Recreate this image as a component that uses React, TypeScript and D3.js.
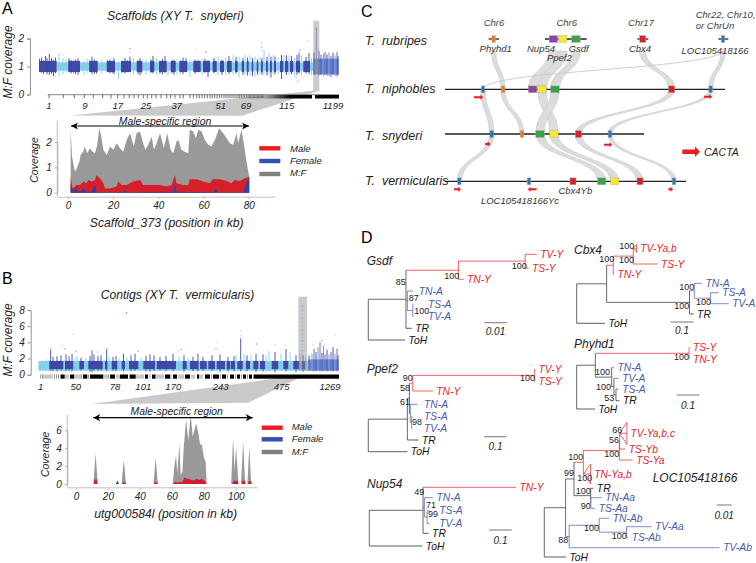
import React, { useEffect, useRef } from 'react';
import * as d3 from 'd3';

const FONT = '"Liberation Sans", Arial, sans-serif';
const NARROW = '"Liberation Sans Narrow", "Liberation Sans", Arial, sans-serif';
const RED = '#e8262d';
const BLUE = '#4a5bab';
const DARK = '#3f48a6';
const LIGHT = '#84cfe9';
const MID = '#6f8fd6';

// panel A, genome-wide M:F coverage. x is position along the concatenated scaffolds
const darkBlocksA = [[1, 18.7], [30.3, 42], [51.3, 59.7], [68.7, 77], [83, 93], [98.7, 104.3], [112, 116.3], [121, 128.7], [132.7, 137.7], [141.3, 149.3], [155.3, 162.7], [165, 172], [174.7, 178.7], [182, 186], [189, 193.7], [197, 199.7], [203.7, 206], [208.7, 210.7], [213.7, 215.3], [218.7, 220.3], [223, 224.7], [228, 229.7], [232, 233.7], [236, 238], [242, 245.3], [247, 250.3], [252, 255.3], [258, 262], [265.3, 272]];
const spikesDarkA = [[1.5, .82, 1.28], [3.5, .78, 1.32], [5.5, .74, 1.22], [7.5, .8, 1.38], [9, .72, 1.3], [11.3, .7, 1.46], [13.5, .74, 1.3], [15.5, .66, 1.24], [17.5, .76, 1.32], [31, .82, 1.3], [33, .75, 1.24], [35.5, .78, 1.2], [37.5, .72, 1.25], [40, .7, 1.3], [41.5, .8, 1.18], [52, .8, 1.22], [54, .72, 1.35], [56.5, .74, 1.25], [58.5, .75, 1.2], [69.5, .8, 1.22], [72, .76, 1.25], [74.5, .78, 1.2], [76, .72, 1.3], [84, .78, 1.2], [87, .75, 1.3], [89.5, .82, 1.22], [92, .8, 1.35], [100, .72, 1.22], [102, .68, 1.3], [103.5, .78, 1.2], [113, .78, 1.25], [115, .75, 1.38], [122, .74, 1.2], [124.5, .72, 1.28], [127, .78, 1.38], [134, .76, 1.22], [136, .7, 1.25], [142.5, .78, 1.22], [145, .72, 1.32], [148, .8, 1.3], [157, .74, 1.25], [160, .8, 1.22], [167, .78, 1.28], [170, .62, 1.22], [176, .76, 1.3], [184, .7, 1.25], [191, .72, 1.38], [198, .75, 1.34], [205, .7, 1.3], [209.5, .68, 1.32], [214.5, .66, 1.3], [219.5, .7, 1.25], [224, .7, 1.3], [229, .68, 1.34], [233, .6, 1.35], [237, .72, 1.36], [243.5, .55, 1.42], [248.5, .7, 1.4], [253.5, .72, 1.38], [259, .7, 1.42], [261, .75, 1.5], [268, .75, 1.34], [271, .72, 1.48]];
const spikesLightA = [[21, .65, 1.45], [25, .72, 1.3], [28, .78, 1.25], [46, .7, 1.22], [49, .75, 1.28], [64, .74, 1.25], [80.5, .56, 1.2], [95.5, .72, 1.3], [108, .7, 1.25], [118.5, .7, 1.3], [130, .68, 1.2], [139, .72, 1.25], [152, .62, 1.25], [164, .7, 1.28], [180, .68, 1.35], [187.5, .7, 1.3], [195, .7, 1.4], [201, .6, 1.36], [207, .68, 1.42], [212, .68, 1.4], [217, .62, 1.36], [222, .72, 1.36], [226, .7, 1.6], [231, .72, 1.5], [235, .72, 1.4], [240, .72, 1.34], [246, .78, 1.4], [251, .7, 1.4], [256.5, .65, 1.3], [263.5, .68, 1.4], [273.5, .7, 1.3]];
const spikesMixA = [[276, .7, 1.5], [278.3, 1.2, 2.4], [281, .68, 1.56], [283, .7, 1.42], [285.5, .66, 1.45], [287, .7, 1.52], [289, .68, 1.42], [291, .66, 1.5], [293, .62, 1.38], [295, .7, 1.5], [297, .66, 1.4], [299, .64, 1.52], [300, .7, 1.38]];
const dotsA = [[92, 1.64], [91.3, 1.52], [223.7, 1.85], [223.7, 1.7], [224, 1.58], [270.3, 1.92], [262, 1.58], [260.3, .5], [259, .44], [258, .62], [157.5, 1.62], [25, 1.42], [168, 1.52]];
const ticksA = [49, 63.3, 74.3, 84.3, 93.3, 102.7, 111, 117.7, 124, 129.3, 134, 138.3, 143.3, 147.3, 151.7, 156, 161, 166.7, 170.7, 175, 180, 183.3, 190, 193.3, 196.7, 199.3, 202, 204.7, 207.3, 210, 212.3, 214.7, 217, 219.3, 221.7, 224, 226, 228, 230, 232, 234, 236, 238, 239.7, 241.3, 243, 244.7, 246.3, 248, 249.3, 250.7, 252, 253.3, 254.7, 256, 257.3, 258.7, 260, 261.3, 262.7, 264];
const tickLabelsA = [['1', 49], ['9', 85], ['17', 117.7], ['25', 146], ['37', 176.7], ['51', 220.7], ['69', 246], ['115', 286.7], ['1199', 333]];

// panel A zoom on Scaffold_373
const kbMfA = [1.3, 1.9, 3.2, 4, 5.2, 5.7, 6.9, 7.5, 8.7, 9.9, 11, 12.1, 13.1, 14, 14.9, 15.8, 17.3, 18.7, 20.2, 21.7, 23.2, 24.6, 26.1, 27.6, 29.3, 30.5, 32, 33.2, 34.4, 35.7, 37.2, 38.2, 39.4, 40.9, 42.6, 44.1, 45.6, 46.8, 48.2, 49.1, 50.3, 51.9, 53.4, 54.1, 55.6, 56.8, 57.8, 59.3, 60.8, 62.2, 63.7, 65.2, 67.1, 68.9, 70.4, 71.8, 73.3, 74.8, 75.5, 77, 78, 79.2, 80.4];
const mfA = [2.54, 1.42, .83, .96, 1.23, 1.49, 1.62, 1.82, 1.56, 1.75, 1.62, 1.56, 1.89, 2.54, 2.21, 1.69, 1.49, 1.82, 1.69, 1.95, 1.75, 1.62, 2.08, 2.35, 1.82, 2.35, 2.41, 2.02, 1.69, 1.89, 2.21, 1.69, 1.95, 2.35, 1.75, 2.35, 1.69, 1.56, 2.02, 2.08, 1.69, 1.62, 1.56, 2.48, 2.41, 2.15, 2.48, 2.41, 2.08, 1.89, 1.82, 2.08, 2.54, 2.35, 2.15, 1.95, 1.89, 2.35, 1.95, 2.48, 1.95, 1.23, .63];
const kbMaleA = [1.3, 2.2, 4, 5.4, 6.9, 8.4, 9.1, 10.6, 12.1, 12.8, 14.3, 15.8, 16.5, 18.7, 21.7, 22.4, 23.9, 26.1, 29, 32, 33.5, 36.4, 40.9, 43.8, 46, 47.5, 48.2, 51.2, 53.4, 54.1, 57.1, 60, 63, 64.2, 67.4, 70.4, 72.6, 74, 76.3, 78.5, 80.4];
const maleA = [.63, .17, .3, .3, .44, .37, .5, .44, .5, .7, .57, .37, .17, .17, .24, .44, .3, .3, .44, .5, .3, .3, .3, .24, .3, .7, .37, .3, .3, .53, .53, .44, .37, .53, .53, .46, .37, .5, .46, .57, .63];
const kbFemaleA = [1.3, 2.4, 3.5, 4.7, 6.2, 7.1, 8.4, 10.6, 12.1, 12.8, 13.5, 24.6, 25.4, 26.3, 46.8, 47.5, 48.2, 64.5, 65.5, 66.6, 77.7, 78.9, 80.4];
const femaleA = [.3, .04, .2, .04, .08, .17, .04, .04, .3, .04, .02, .02, .12, .02, .04, .37, .04, .02, .17, .02, .02, .3, .63];

// panel B, genome-wide M:F coverage along the contigs
const darkBlocksB = [[11.3, 25.3], [27, 35.3], [41.3, 46], [50.3, 64.7], [67, 69.3], [73.7, 79.3], [83.7, 87], [91, 100.3], [105.3, 117], [118.7, 138], [144.7, 148.7], [152, 160.3], [162, 168.7], [170.3, 177], [178.7, 187], [188.7, 192], [192.7, 197], [199.3, 204.7], [208, 212], [215.3, 220.3], [222, 227], [233.7, 240.3], [245.3, 250.3], [255.3, 261.3], [263.7, 267]];
const spikesDarkB = [[12.7, .5, 3.1], [15, .45, 2.2], [19, .4, 2.3], [23, .5, 2.4], [28, .4, 2.5], [31, .5, 2.3], [34, .45, 2.6], [43, .5, 2.1], [52, .35, 2.3], [54, .3, 3], [56, .5, 2.5], [60, .45, 2.3], [63, .5, 2.4], [68.7, .4, 3.2], [75, .5, 2.2], [78, .45, 2.3], [85.5, .4, 2.6], [93, .45, 2.4], [97, .5, 2.6], [108, .4, 2.3], [112, .35, 2.5], [116, .45, 2.4], [122, .5, 2.2], [128, .45, 2.3], [135, .4, 2.6], [146, .35, 2.4], [155, .45, 2.2], [160, .4, 2.6], [165, .5, 2.2], [174, .45, 2.4], [182, .35, 2.5], [190, .4, 2.2], [196, .4, 2.3], [202.7, .4, 4.5], [209, .4, 2.4], [218, .35, 2.6], [225, .4, 2.5], [237, .3, 2.8], [248, .4, 3.2], [258, .35, 2.4], [265, .35, 2.4]];
const spikesLightB = [[8, .5, 1.9], [37, .5, 2], [39, .5, 2.3], [48, .5, 2.1], [71, .5, 2.2], [81, .5, 2], [89, .5, 2.1], [103, .5, 2.1], [141, .5, 2.2], [150, .5, 2.1], [198, .5, 2.4], [206, .5, 2.6], [213, .5, 2.5], [228, .5, 2.4], [231, .45, 2.9], [243, .45, 2.6], [252, .5, 2.8], [262, .5, 2.5], [268, .5, 2.2]];
const spikesMixB = [[271, .5, 2.4], [274, .4, 2.6], [276, .4, 3.2], [278, .45, 2.8], [280, .45, 3.4], [282, .4, 4], [284, .45, 2.7], [285.5, .4, 3.6], [287, .5, 2.5], [289, .4, 3.1], [291, .4, 2.5], [293, .45, 2.8], [295, .4, 3.4], [297, .45, 2.6], [299, .4, 3.2], [300, .5, 2.4]];
const dotsB = [[88.7, 7.7], [88.7, 7.5], [35.3, 5], [38, 2.9], [12.7, 3.2], [24.3, 3.6], [27, 3.2], [68.7, 3.2], [178.7, 4], [178, 3.2], [202.7, 5.4], [202.7, 4.9], [218.7, 3.8], [237, 3.7], [297, 4.9], [283.7, 4.2], [247, 3.6], [275, 3.7], [264.3, 8.5], [264.3, 8], [264.3, 7.5], [264.3, 7], [264.3, 6.5], [264.3, 6], [264.3, 5.5], [264.3, 5], [264.3, 4.6], [264.3, 4.2], [264.3, 3.8], [264.3, 3.4], [264.3, 3], [264.3, 2.6], [170, 2.7], [100, 2.9], [60, 2.8], [140, 2.9], [143, 3.1]];
const barsB = [[60.5, 64.7], [70, 74.3], [83, 87.3], [90, 103.3], [110, 115], [120, 128], [130, 135.7], [145, 148], [152, 155.5], [165, 170], [173, 177], [185, 190], [197, 199], [205, 210], [213, 219], [222, 226], [230, 234], [237, 240], [243, 246], [249, 252], [253.5, 339]];
const ticksB = [40.7, 42.5, 44, 46, 48, 50, 52, 54.5, 56.5, 58.5, 66, 68, 76, 78, 80, 81.5, 88.5, 105, 107, 108.5, 117, 119, 129.5, 137, 139, 141, 143, 150, 157, 159, 161, 163, 171, 179, 181, 183, 192, 194, 200, 202, 211.5, 220.5, 227.5, 235.5, 241.5, 247.5];
const tickLabelsB = [['1', 40.7], ['50', 75.7], ['78', 115], ['101', 143.3], ['170', 173.3], ['243', 220.7], ['475', 281.7], ['1269', 330]];

// panel B zoom on utg000584l
const kbMfB = [10.9, 12.3, 13.7, 28.6, 30, 31.4, 48.6, 50, 51.4, 60.7, 61.7, 62.8, 63.6, 64.9, 65.7, 66.8, 67.8, 69.1, 70.5, 72, 73.3, 75.4, 76.8, 77.9, 79, 80.4, 81.4, 82, 97.4, 98.6, 99.6, 100.5, 102, 103.6, 104.9, 106.2, 107.6, 108.8, 110];
const mfB = [0, 3.4, 0, 0, 2.7, 0, 0, 2.9, 0, 0, 1.9, 3.2, 1.2, 4.5, 1, 1.4, 4.5, 7.2, 4.9, 7.7, 5.3, 6.8, 5.7, 4.4, 4.4, 2.9, 2.5, 0, 0, 5.1, 1.5, 4.2, 0, 0, 4.8, 0, 0, 4.2, 0];
const kbMaleB = [11.3, 11.6, 13, 13.3, 29.2, 29.5, 31, 31.3, 49, 49.3, 51, 51.3, 61, 62, 64, 65, 66.5, 68, 70, 72, 74, 75.5, 77.5, 79, 81, 82, 98, 99, 101.5, 102, 104, 104.5, 106, 106.5, 108, 108.5, 110, 110.4];
const maleB = [0, .5, .5, 0, 0, .2, .2, 0, 0, .2, .2, 0, 0, .25, .15, .25, .15, .7, .6, .5, .4, .6, .45, .6, .3, 0, 0, .35, .35, 0, 0, .35, .35, 0, 0, .3, .3, 0];
const kbFemaleB = [25, 26, 27, 99.5, 100.3, 101];
const femaleB = [0, .4, 0, 0, .3, 0];

// panel C, synteny tracks. Position along a track is in track units
const speciesRows = ['T.  rubripes', 'T.  niphobles', 'T.  snyderi', 'T.  vermicularis'];
const rowY = [39, 89.3, 134, 181.3];
const trackExtents = [[[416, 447], [585, 710], [862, 895], [1105, 1135]], [[285, 1125]], [[285, 882]], [[285, 1008]]];
const geneColors: Record<string, string> = { orange: '#e67e22', purple: '#8e44a5', yellow: '#f7e92b', green: '#3aa24a', red: '#d9202a', blue: '#2a75b3' };
const geneRows: [string, number][][] = [
  [['orange', 431], ['purple', 610], ['yellow', 638], ['green', 678], ['red', 878], ['blue', 1119]],
  [['blue', 399], ['orange', 459], ['purple', 548], ['yellow', 576], ['green', 615], ['red', 965], ['blue', 1082]],
  [['blue', 425], ['orange', 516], ['green', 570], ['yellow', 612], ['red', 685], ['blue', 780]],
  [['blue', 328], ['blue', 537], ['red', 669], ['green', 755], ['yellow', 794], ['red', 870], ['blue', 972]],
];
// from row, from position, to position, width in track units
const ribbons: [number, number, number, number][] = [
  [0, 431, 459, 13], [0, 610, 548, 27], [0, 638, 576, 27], [0, 678, 615, 27], [0, 878, 965, 19], [0, 1119, 1082, 13],
  [1, 399, 425, 14], [1, 459, 516, 13], [1, 576, 612, 25], [1, 615, 570, 25], [1, 965, 685, 19], [1, 1082, 780, 14],
  [2, 425, 328, 14], [2, 570, 755, 25], [2, 612, 794, 25], [2, 685, 870, 20], [2, 780, 972, 13],
];
const cactaArrows: [number, number, number][] = [
  [292, 372, 400], [290, 1062, 1087], [432, 405, 422], [434, 762, 787], [568, 312, 333], [568, 560, 533], [568, 955, 970],
];

// panel D, gene trees: [branch length, leaf name or children, fan half height]
type Clade = [number, string | Clade[], number?];
const gsdfTree: Clade = [0, [
  [.0166, [
    [.0231, [[.0294, [[.0051, 'TV-Y'], [.0015, 'TS-Y']]], [.0022, 'TN-Y']]],
    [.0006, [[.0026, 'TN-A'], [.0024, [[.0003, 'TS-A'], [.0003, 'TV-A']]]]],
    [.0025, 'TR'],
  ]],
  [.0162, 'ToH'],
]];
const ppef2Tree: Clade = [0, [
  [.172, [
    [.009, [
      [.015, [[.537, [[.0015, 'TV-Y'], [.0015, 'TS-Y']]], [.088, 'TN-Y']]],
      [.004, [[.032, 'TN-A'], [.006, [[.004, 'TS-A'], [.004, 'TV-A']]]]],
    ]],
    [.049, 'TR'],
  ]],
  [.172, 'ToH'],
]];
const nup54Tree: Clade = [0, [
  [.241, [
    [.417, 'TN-Y'],
    [.006, [[.039, 'TN-A'], [.012, [[.012, 'TS-A'], [.012, 'TV-A']]]]],
    [.025, 'TR'],
  ]],
  [.238, 'ToH'],
]];
const cbx4Tree: Clade = [0, [
  [.132, [
    [.029, [[.088, [[.015, 'TV-Ya,b', 4], [.107, 'TS-Y']]], [.003, 'TN-Y']]],
    [.365, [[.021, [[.034, 'TN-A'], [.071, [[.037, 'TS-A'], [.081, 'TV-A']]]]], [.018, 'TR']]],
  ]],
  [.125, 'ToH'],
]];
const phyhd1Tree: Clade = [0, [
  [.082, [
    [.413, [[.0015, 'TS-Y'], [.0015, 'TN-Y']]],
    [.072, [[.01, 'TN-A'], [.01, [[.021, 'TV-A'], [.009, [[.012, 'TS-A'], [.015, 'TR']]]]]]],
  ]],
  [.081, 'ToH'],
]];
const locTree: Clade = [0, [
  [.0142, [
    [.0056, [
      [.0062, [
        [.024, [[.0002, [[.0049, 'TV-Ya,b,c', 11], [.0038, 'TS-Yb']]], [.0089, 'TS-Ya']]],
        [.0049, 'TN-Ya,b', 10],
      ]],
      [.0111, [[.0018, 'TR'], [.0001, [[.0073, 'TN-Aa'], [.0029, 'TS-Aa']]]]],
    ]],
    [.0024, [
      [.02, [[.0067, 'TN-Ab'], [.0182, [[.0167, 'TV-Aa'], [.0011, 'TS-Ab']]]]],
      [.1003, 'TV-Ab'],
    ]],
  ]],
  [.0144, 'ToH'],
]];
const supportLabels: [string, number, number][] = [
  ['100', 511.7, 266], ['100', 444.3, 275.7], ['85', 395.7, 281.7], ['87', 408.7, 298.3], ['100', 414.3, 310.7],
  ['90', 402.7, 377.7], ['100', 520, 378.3], ['58', 400, 388.3], ['61', 400, 401.7], ['98', 412, 421.7],
  ['49', 414.3, 491.7], ['71', 426, 505], ['99', 428, 514.3],
  ['100', 619.3, 245.7], ['100', 599.3, 259.3], ['100', 619, 260.3], ['100', 679.3, 286.7], ['100', 696, 302], ['100', 674.3, 305.5],
  ['100', 674, 357.3], ['100', 595, 371.7], ['100', 596, 387.3], ['53', 604.3, 398.3],
  ['66', 612.3, 430], ['56', 609, 440], ['100', 604.3, 454.3], ['100', 568.3, 456.7], ['99', 564, 473.3], ['100', 577.3, 478.3], ['100', 575.7, 490.7], ['90', 580.7, 505.7], ['100', 584, 528.3], ['100', 611.7, 536], ['88', 558.3, 540],
];

const covXA = d3.scaleLinear().domain([0, 301]).range([38, 339]);
const covYA = d3.scaleLinear().domain([0, 2]).range([94.5, 38.5]);
const covXB = d3.scaleLinear().domain([0, 301]).range([38, 339]);
const covYB = d3.scaleLinear().domain([0, 8]).range([374.7, 310]);
const areaXA = d3.scaleLinear().domain([0, 80]).range([67.7, 248.3]);
const areaYA = d3.scaleLinear().domain([0, 2]).range([192.7, 142]);
const areaXB = d3.scaleLinear().domain([0, 100]).range([76, 235.3]);
const areaYB = d3.scaleLinear().domain([0, 6]).range([484, 430.3]);
const trackX = d3.scaleLinear().domain([0, 1218]).range([350, 756]);

function Axis({ axis, transform, color = '#888' }: { axis: d3.Axis<any>, transform: string, color?: string }) {
  const ref = useRef<SVGGElement>(null);
  useEffect(() => {
    const g = d3.select(ref.current);
    g.call(axis);
    g.selectAll('line,path').attr('stroke', color).attr('stroke-width', 0.9);
    g.selectAll('text').attr('font-family', FONT).attr('font-style', 'italic').attr('font-size', 10).attr('fill', '#222');
  }, []);
  return <g ref={ref} transform={transform} />;
}

function Txt({ x, y, size = 10, anchor = 'start', fill = '#222', italic = true, rotate, family = FONT, children }: any) {
  return (
    <text
      x={x}
      y={y}
      fontSize={size}
      fontFamily={family}
      fontStyle={italic ? 'italic' : 'normal'}
      textAnchor={anchor}
      dominantBaseline="central"
      fill={fill}
      xmlSpace="preserve"
      transform={rotate ? `rotate(${rotate} ${x} ${y})` : undefined}
    >
      {children}
    </text>
  );
}

function Coverage({ x, y, dark, lightSpan, coreDark, coreLight, mixSpan, coreMix, spikesDark, spikesLight, spikesMix, dots }: any) {
  const mixColors = [DARK, MID, '#4f63b8', LIGHT];
  return (
    <g filter="url(#soft)">
      <rect x={x(lightSpan[0])} width={x(lightSpan[1]) - x(lightSpan[0])} y={y(coreLight[1])} height={y(coreLight[0]) - y(coreLight[1])} fill={LIGHT} />
      {spikesLight.map(([p, lo, hi], i) => <line key={i} x1={x(p)} x2={x(p)} y1={y(lo)} y2={y(hi)} stroke={LIGHT} strokeWidth={0.9} />)}
      {dark.map(([a, b], i) => (
        <rect key={i} x={x(a)} width={x(b) - x(a)} y={y(coreDark[1])} height={y(coreDark[0]) - y(coreDark[1])} fill={DARK} />
      ))}
      {spikesDark.map(([p, lo, hi], i) => <line key={i} x1={x(p)} x2={x(p)} y1={y(lo)} y2={y(hi)} stroke={DARK} strokeWidth={0.9} />)}
      <rect x={x(mixSpan[0])} width={x(mixSpan[1]) - x(mixSpan[0])} y={y(coreMix[1])} height={y(coreMix[0]) - y(coreMix[1])} fill={MID} />
      {spikesMix.map(([p, lo, hi], i) => <line key={i} x1={x(p)} x2={x(p)} y1={y(lo)} y2={y(hi)} stroke={mixColors[i % 3]} strokeWidth={0.9} />)}
      {dots.map(([p, v], i) => <circle key={i} cx={x(p)} cy={y(v)} r={0.7} fill={i % 3 === 0 ? '#7a8fd8' : '#9fd8ee'} />)}
    </g>
  );
}

function Coverage2({ x, y, mfKb, mf, maleKb, male, femaleKb, female }: any) {
  const mk = (kb: number[], vals: number[]) => d3.area<number>()
    .x((_, i) => x(kb[i]))
    .y0(y(0))
    .y1(d => y(d))(vals) as string;
  return (
    <g>
      <path d={mk(mfKb, mf)} fill="#999999" />
      <path d={mk(maleKb, male)} fill="#d5202b" />
      <path d={mk(femaleKb, female)} fill="#2f41a5" />
    </g>
  );
}

function Legend({ x, labelX, ys, labelYs }: any) {
  const items = [['Male', '#ee1c25'], ['Female', '#3450b0'], ['M:F', '#808080']];
  return (
    <g>
      {items.map(([name, c], i) => (
        <g key={name}>
          <rect x={x} width={21} y={ys[i] - 2.2} height={4.4} fill={c} />
          <Txt x={labelX} y={labelYs[i]} size={9.5}>{name}</Txt>
        </g>
      ))}
    </g>
  );
}

function DoubleArrow({ x1, x2, y }: any) {
  return (
    <g>
      <line x1={x1} x2={x2} y1={y} y2={y} stroke="#000" strokeWidth={1.2} />
      <path d={`M${x1},${y}l7,-3.6l-2,3.6l2,3.6z`} fill="#000" />
      <path d={`M${x2},${y}l-7,-3.6l2,3.6l-2,3.6z`} fill="#000" />
    </g>
  );
}

// filled band, so it keeps its horizontal width and thins out on the shallow part
function Ribbon({ from, to, y1, y2, w }: any) {
  const link = d3.linkVertical<any, any>().x(d => d[0]).y(d => d[1]);
  const left = link({ source: [trackX(from - w / 2), y1], target: [trackX(to - w / 2), y2] }) as string;
  const right = link({ source: [trackX(to + w / 2), y2], target: [trackX(from + w / 2), y1] }) as string;
  return <path d={`${left}L${right.slice(1)}Z`} fill="#dcdcdc" stroke="#c4c4c4" strokeWidth={0.5} />;
}

function GeneTree({ data, x0, leafY, barLen, barPx, gap = 3.5, nudge = {} }: any) {
  const root = d3.hierarchy<Clade>(data, d => (Array.isArray(d[1]) ? (d[1] as Clade[]) : null));
  const len = d3.scaleLinear().domain([0, barLen]).range([0, barPx]);
  const leaves = root.leaves();
  const pos = new Map<any, { x: number, y: number }>();
  root.eachBefore(n => {
    const px = n.parent ? pos.get(n.parent)!.x : x0;
    pos.set(n, { x: px + len(n.data[0]), y: 0 });
  });
  leaves.forEach((l, i) => { pos.get(l)!.y = leafY[i]; });
  root.eachAfter(n => {
    if (n.children) {
      const ys = n.children.map(c => pos.get(c)!.y);
      pos.get(n)!.y = (d3.min(ys)! + d3.max(ys)!) / 2;
    }
  });
  const colorOf = (name: string) => (name.includes('-Y') ? '#ee3a40' : name.includes('-A') ? '#5f70b8' : '#333');
  const branchColor = (n: d3.HierarchyNode<Clade>) => {
    const cols = new Set(n.leaves().map(l => colorOf(l.data[1] as string)));
    return cols.size === 1 ? [...cols][0] : '#444';
  };
  const textColor = (name: string) => (name.includes('-Y') ? RED : name.includes('-A') ? BLUE : '#111');
  return (
    <g>
      {root.descendants().slice(1).map((n, i) => {
        const p = pos.get(n)!;
        const q = pos.get(n.parent)!;
        return <line key={i} x1={q.x} x2={p.x} y1={p.y} y2={p.y} stroke={branchColor(n)} strokeWidth={0.8} />;
      })}
      {root.descendants().filter(n => n.children).map((n, i) => {
        const ys = n.children!.map(c => pos.get(c)!.y);
        const p = pos.get(n)!;
        return <line key={i} x1={p.x} x2={p.x} y1={d3.min(ys)} y2={d3.max(ys)} stroke={branchColor(n)} strokeWidth={0.8} />;
      })}
      {leaves.map((l, i) => {
        const p = pos.get(l)!;
        const q = pos.get(l.parent)!;
        const name = l.data[1] as string;
        const h = l.data[2];
        return (
          <g key={i}>
            {h ? <path d={`M${q.x},${p.y}L${p.x},${p.y - h}L${p.x},${p.y + h}Z`} fill="none" stroke="#ee3a40" strokeWidth={0.8} /> : null}
            <Txt x={p.x + gap + (nudge[name] || 0)} y={p.y} size={10.3} fill={textColor(name)}>{name}</Txt>
          </g>
        );
      })}
    </g>
  );
}

function ScaleBar({ x1, x2, y, label, labelY }: any) {
  return (
    <g>
      <line x1={x1} x2={x2} y1={y} y2={y} stroke="#666" strokeWidth={0.9} />
      <Txt x={(x1 + x2) / 2} y={labelY} size={10} anchor="middle">{label}</Txt>
    </g>
  );
}

export default function App() {
  const link = d3.linkVertical<any, any>().x(d => d[0]).y(d => d[1]);
  return (
    <svg width={756} height={563} viewBox="0 0 756 563" style={{ position: 'absolute', left: 0, top: 0, background: '#fff' }}>
      <defs>
        <filter id="soft" x="-5%" y="-5%" width="110%" height="110%"><feGaussianBlur stdDeviation="0.3" /></filter>
        <linearGradient id="fade" x1="0" x2="1" y1="0" y2="0"><stop offset="0" stopColor="#aaa" /><stop offset="1" stopColor="#000" /></linearGradient>
      </defs>

      {/* panel A */}
      <Txt x={2} y={8} size={16} italic={false} fill="#000">A</Txt>
      <Txt x={175.5} y={16} size={12.2} anchor="middle">Scaffolds (XY T.  snyderi)</Txt>
      <Txt x={8} y={62} size={12} anchor="middle" rotate={-90}>M:F coverage</Txt>
      <Axis axis={d3.axisLeft(covYA).tickValues([0, 1, 2]).tickFormat(d3.format('d')).tickSize(3)} transform="translate(30,0)" />
      <Coverage
        x={covXA} y={covYA} dark={darkBlocksA} lightSpan={[18.7, 275]} coreDark={[.8, 1.2]} coreLight={[.85, 1.15]} mixSpan={[275.3, 300.6]} coreMix={[.72, 1.28]}
        spikesDark={spikesDarkA} spikesLight={spikesLightA} spikesMix={spikesMixA} dots={dotsA}
      />
      <polygon points="71,115.5 313.3,90.7 319.3,90.7 242,115.7" fill="#c9c9c9" />
      <rect x={313.3} y={20.7} width={6} height={70} fill="#8a8a8a" opacity={0.45} />
      <line x1={47.7} x2={339} y1={94.7} y2={94.7} stroke="#555" strokeWidth={0.7} />
      {ticksA.map((t, i) => <line key={i} x1={t} x2={t} y1={94.7} y2={98.3} stroke="#333" strokeWidth={0.7} />)}
      <rect x={264} y={95} width={27} height={3.5} fill="url(#fade)" />
      <rect x={291} y={95} width={21} height={3.5} fill="#000" />
      <rect x={315} y={95} width={24} height={3.5} fill="#000" />
      {tickLabelsA.map(([l, p]) => <Txt key={l} x={p} y={105.5} size={9.5} anchor="middle">{l}</Txt>)}

      <line x1={57.3} x2={57.3} y1={120.7} y2={196.7} stroke="#bbb" strokeWidth={1} />
      <Coverage2 x={areaXA} y={areaYA} mfKb={kbMfA} mf={mfA} maleKb={kbMaleA} male={maleA} femaleKb={kbFemaleA} female={femaleA} />
      <Axis axis={d3.axisLeft(areaYA).tickValues([0, 1, 2]).tickFormat(d3.format('d')).tickSize(2.5).tickSizeOuter(0)} transform="translate(57.3,0)" color="#aaa" />
      <Axis axis={d3.axisBottom(d3.scaleLinear().domain([-4.7, 91.6]).range([57.3, 275])).tickValues([0, 20, 40, 60, 80]).tickFormat(d3.format('d')).tickSize(2.5).tickPadding(3).tickSizeOuter(0)} transform="translate(0,196.7)" color="#bbb" />
      <Txt x={34} y={160} size={10.5} anchor="middle" rotate={-90}>Coverage</Txt>
      <Txt x={166.7} y={223.3} size={12.2} anchor="middle">Scaffold_373 (position in kb)</Txt>
      <DoubleArrow x1={71} x2={249} y={126} />
      <Txt x={165} y={121} size={10.4} anchor="middle">Male-specific region</Txt>
      <Legend x={259.3} labelX={290} ys={[148.3, 161, 174]} labelYs={[148, 160, 172.7]} />

      {/* panel B */}
      <Txt x={2} y={278} size={16} italic={false} fill="#000">B</Txt>
      <Txt x={177.5} y={295} size={12.2} anchor="middle">Contigs (XY T.  vermicularis)</Txt>
      <Txt x={8} y={340} size={12} anchor="middle" rotate={-90}>M:F coverage</Txt>
      <Axis axis={d3.axisLeft(covYB).tickValues([0, 2, 4, 6, 8]).tickFormat(d3.format('d')).tickSize(3)} transform="translate(30.7,0)" />
      <Coverage
        x={covXB} y={covYB} dark={darkBlocksB} lightSpan={[0.5, 270]} coreDark={[.7, 1.7]} coreLight={[.5, 1.7]} mixSpan={[270.3, 300.6]} coreMix={[.5, 1.9]}
        spikesDark={spikesDarkB} spikesLight={spikesLightB} spikesMix={spikesMixB} dots={dotsB}
      />
      <polygon points="91.7,404 248.3,402.7 305,375 300,375" fill="#c9c9c9" />
      <rect x={298.3} y={296.7} width={8.7} height={74} fill="#8a8a8a" opacity={0.45} />
      {ticksB.map((t, i) => <line key={i} x1={t} x2={t} y1={374.5} y2={378.7} stroke="#444" strokeWidth={0.6} />)}
      {barsB.map(([a, b], i) => <rect key={i} x={a} width={b - a} y={374.5} height={4.2} fill="#000" />)}
      {tickLabelsB.map(([l, p]) => <Txt key={l} x={p} y={386.7} size={9.5} anchor="middle">{l}</Txt>)}

      <line x1={67.3} x2={67.3} y1={415} y2={487.3} stroke="#bbb" strokeWidth={1} />
      <Coverage2 x={areaXB} y={areaYB} mfKb={kbMfB} mf={mfB} maleKb={kbMaleB} male={maleB} femaleKb={kbFemaleB} female={femaleB} />
      <Axis axis={d3.axisLeft(areaYB).tickValues([0, 2, 4, 6]).tickFormat(d3.format('d')).tickSize(2.5).tickSizeOuter(0)} transform="translate(67.3,0)" color="#aaa" />
      <Axis axis={d3.axisBottom(d3.scaleLinear().domain([-5.4, 113.3]).range([67.3, 257])).tickValues([0, 20, 40, 60, 80, 100]).tickFormat(d3.format('d')).tickSize(2.5).tickPadding(3).tickSizeOuter(0)} transform="translate(0,487.3)" color="#bbb" />
      <Txt x={45} y={454.3} size={10.5} anchor="middle" rotate={-90}>Coverage</Txt>
      <Txt x={165.7} y={514} size={12.2} anchor="middle">utg000584l (position in kb)</Txt>
      <DoubleArrow x1={93.3} x2={252.7} y={417.7} />
      <Txt x={176.7} y={411} size={10.4} anchor="middle">Male-specific region</Txt>
      <Legend x={261.7} labelX={291.7} ys={[427.7, 439.3, 452]} labelYs={[426.5, 438, 451]} />

      {/* panel C */}
      <Txt x={361} y={11} size={16} italic={false} fill="#000">C</Txt>
      {ribbons.map(([row, from, to, w], i) => (
        <Ribbon key={i} from={from} to={to} w={w} y1={row === 0 ? rowY[0] + 12 : rowY[row]} y2={rowY[row + 1]} />
      ))}
      <path d={link({ source: [trackX(1119), 50], target: [trackX(399), rowY[1]] }) as string} fill="none" stroke="#c8c8c8" strokeWidth={0.9} />
      {trackExtents.map((segs, r) => segs.map(([a, b], i) => (
        <line key={`${r}-${i}`} x1={trackX(a)} x2={trackX(b)} y1={rowY[r]} y2={rowY[r]} stroke="#222" strokeWidth={1.3} />
      )))}
      {geneRows.map((genes, r) => genes.map(([c, p], i) => {
        const w = c === 'blue' || c === 'orange' ? 3.4 : c === 'red' ? 6 : 8.4;
        return <rect key={`${r}-${i}`} x={trackX(p) - w / 2} y={rowY[r] - 3.4} width={w} height={6.8} fill={geneColors[c]} stroke="#aaa" strokeWidth={0.4} />;
      }))}
      {cactaArrows.map(([zy, a, b], i) => {
        const x1 = trackX(a);
        const x2 = trackX(b);
        const dir = x2 > x1 ? 1 : -1;
        const y = zy / 3;
        return <path key={i} d={`M${x1},${y - 1}H${x2 - dir * 3}V${y - 2.4}L${x2},${y}L${x2 - dir * 3},${y + 2.4}V${y + 1}H${x1}Z`} fill="#ee1c25" />;
      })}
      <path d="M682.3,149.5H695V146.5L700,151.7L695,157V154H682.3Z" fill="#ee1c25" />
      <Txt x={704} y={152} size={10.5}>CACTA</Txt>
      {speciesRows.map((s, i) => <Txt key={s} x={365} y={[40.7, 89.3, 136, 181][i]} size={12.5}>{s}</Txt>)}
      <Txt x={494} y={22.7} size={9.5} anchor="middle" fill="#444">Chr6</Txt>
      <Txt x={566.7} y={22.7} size={9.5} anchor="middle" fill="#444">Chr6</Txt>
      <Txt x={641} y={22.7} size={9.5} anchor="middle" fill="#444">Chr17</Txt>
      <Txt x={695.7} y={14} size={9.5} fill="#444">Chr22, Chr10,</Txt>
      <Txt x={695.7} y={25.3} size={9.5} fill="#444">or ChrUn</Txt>
      <Txt x={495.7} y={48.3} size={9.5} anchor="middle" fill="#333">Phyhd1</Txt>
      <Txt x={541} y={48.3} size={9.5} anchor="middle" fill="#333">Nup54</Txt>
      <Txt x={578.7} y={48.3} size={9.5} anchor="middle" fill="#333">Gsdf</Txt>
      <Txt x={559.3} y={57.3} size={9.5} anchor="middle" fill="#333">Ppef2</Txt>
      <Txt x={640} y={48.3} size={9.5} anchor="middle" fill="#333">Cbx4</Txt>
      <Txt x={715} y={50} size={9.5} anchor="middle" fill="#333">LOC105418166</Txt>
      <Txt x={520} y={200} size={9.5} anchor="middle" fill="#333">LOC105418166Yc</Txt>
      <Txt x={575.3} y={190.7} size={9.5} anchor="middle" fill="#333">Cbx4Yb</Txt>

      {/* panel D */}
      <Txt x={361} y={237} size={16} italic={false} fill="#000">D</Txt>
      <Txt x={366.7} y={260.7} size={12}>Gsdf</Txt>
      <Txt x={366.7} y={369} size={12}>Ppef2</Txt>
      <Txt x={367} y={484.3} size={12}>Nup54</Txt>
      <Txt x={574} y={250} size={12}>Cbx4</Txt>
      <Txt x={574} y={344} size={12}>Phyhd1</Txt>
      <Txt x={652.7} y={478.3} size={12}>LOC105418166</Txt>
      <GeneTree data={gsdfTree} x0={368.3} leafY={[254.3, 268, 279.3, 291, 304.3, 316.7, 328.3, 340]} barLen={.01} barPx={22.7} nudge={{ 'TN-A': 2, 'TS-A': 11, 'TV-A': 11 }} />
      <GeneTree data={ppef2Tree} x0={368.3} leafY={[369, 381.7, 391, 404.3, 416.7, 428.3, 440, 451.7]} barLen={.1} barPx={22.7} nudge={{ 'TN-A': 3, 'TS-A': 8, 'TV-A': 8 }} />
      <GeneTree data={nup54Tree} x0={369.3} leafY={[487.3, 497.7, 510.7, 523.3, 533.3, 546]} barLen={.1} barPx={22.3} nudge={{ 'TS-A': 6, 'TV-A': 6 }} />
      <GeneTree data={cbx4Tree} x0={576.7} leafY={[248.3, 264, 274.3, 283.3, 292.7, 303.7, 314, 323.3]} barLen={.1} barPx={22.7} />
      <GeneTree data={phyhd1Tree} x0={576.7} leafY={[347.3, 359.3, 367.7, 378.3, 389, 400.7, 409]} barLen={.1} barPx={22.7} />
      <GeneTree data={locTree} x0={544.3} leafY={[433.3, 449, 460, 474, 488.3, 497.7, 508.3, 518.3, 526.7, 537.7, 547.7, 557]} barLen={.01} barPx={15} />
      {supportLabels.map(([s, x, y], i) => <Txt key={i} x={x} y={y} size={9} italic={false} family={NARROW} fill="#222">{s}</Txt>)}
      <ScaleBar x1={484.3} x2={506.7} y={322.7} label="0.01" labelY={331.7} />
      <ScaleBar x1={484.3} x2={506.7} y={436.7} label="0.1" labelY={446.7} />
      <ScaleBar x1={489.3} x2={511.7} y={530} label="0.1" labelY={540.7} />
      <ScaleBar x1={670.7} x2={693.3} y={322} label="0.1" labelY={330.7} />
      <ScaleBar x1={676.7} x2={699.3} y={395} label="0.1" labelY={405} />
      <ScaleBar x1={716.7} x2={731.7} y={505} label="0.01" labelY={515} />
    </svg>
  );
}
